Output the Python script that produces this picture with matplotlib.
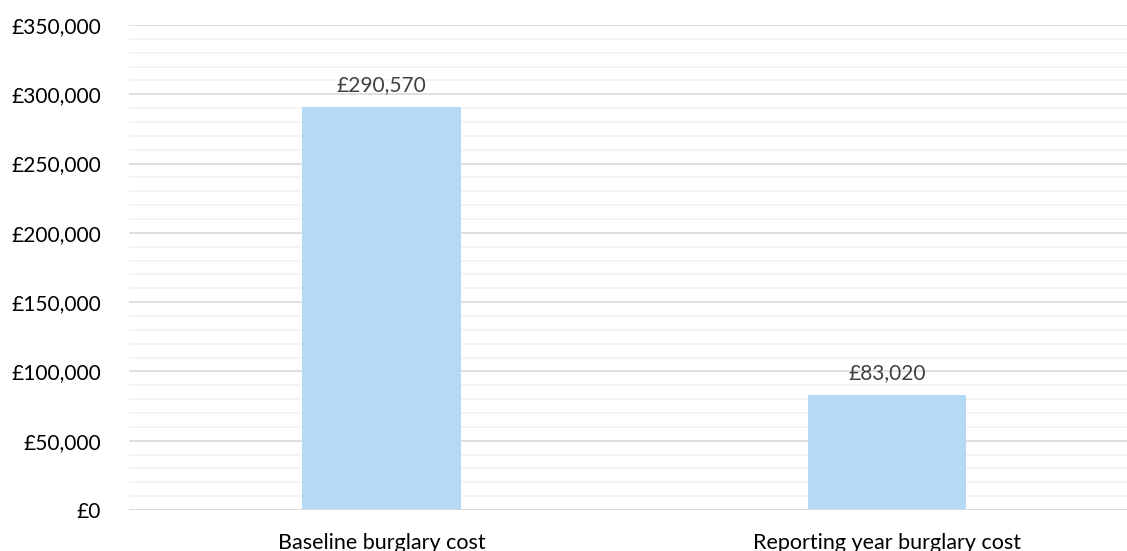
import matplotlib
matplotlib.use("Agg")
import matplotlib.pyplot as plt
from matplotlib.ticker import MultipleLocator, FuncFormatter

categories = ["Baseline burglary cost", "Reporting year burglary cost"]
values = [290570, 83020]

plt.rcParams["font.family"] = ["Lato", "DejaVu Sans"]

fig = plt.figure(figsize=(11.27, 5.51), dpi=100)
ax = fig.add_axes([129 / 1127, 41 / 551, 998 / 1127, 485 / 551])

x = range(len(categories))
bars = ax.bar(x, values, width=0.3145, color="#B4DAF5", zorder=3)

ax.set_ylim(0, 350000)
ax.set_xlim(-0.4995, 1.4748)
ax.yaxis.set_major_locator(MultipleLocator(50000))
ax.yaxis.set_minor_locator(MultipleLocator(10000))
ax.yaxis.set_major_formatter(FuncFormatter(lambda v, p: f"£{v:,.0f}"))

ax.grid(which="major", axis="y", color="#D9D9D9", linewidth=1.2, zorder=1)
ax.grid(which="minor", axis="y", color="#F2F2F2", linewidth=1.2, zorder=0)
ax.axhline(0, color="#D9D9D9", linewidth=1.2, zorder=4)

for s in ax.spines.values():
    s.set_visible(False)
ax.tick_params(axis="both", which="both", length=0)
ax.tick_params(axis="y", labelsize=15, pad=20, labelcolor="#000000")
ax.set_xticks(list(x))
ax.set_xticklabels(categories, fontsize=15.5)
ax.tick_params(axis="x", pad=16.5)

for b, v in zip(bars, values):
    ax.annotate(f"£{v:,}", (b.get_x() + b.get_width() / 2, v),
                xytext=(0, 11.5), textcoords="offset points",
                ha="center", va="baseline", fontsize=15, color="#404040")

fig.savefig("out.png", dpi=100, facecolor="white")
